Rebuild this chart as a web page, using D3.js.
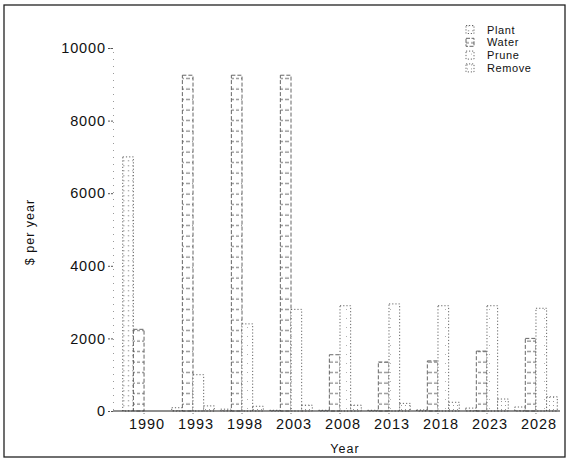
<!DOCTYPE html>
<html><head><meta charset="utf-8">
<script src="https://cdn.jsdelivr.net/npm/d3@7/dist/d3.min.js"></script>
<style>
html,body{margin:0;padding:0;background:#fff;}
svg{display:block;}
text{font-family:"Liberation Sans",Arial,Helvetica,sans-serif;fill:#111;}
</style></head>
<body>
<script>
// ---- data ----
const years  = ["1990","1993","1998","2003","2008","2013","2018","2023","2028"];
const series = ["Plant","Water","Prune","Remove"];
const plant  = [7000,   90,   50,   20,   20,   20,   30,   80,  110];
const water  = [2250, 9250, 9250, 9250, 1550, 1350, 1380, 1650, 2000];
const prune  = [   0, 1000, 2400, 2800, 2900, 2950, 2900, 2900, 2830];
const remove = [   0,  140,  130,  160,  160,  210,  240,  330,  390];
const yTicks = [0, 2000, 4000, 6000, 8000, 10000];

const values = {Plant: plant, Water: water, Prune: prune, Remove: remove};
const rows = [];
years.forEach((yr, i) => series.forEach(s => rows.push({year: yr, series: s, value: values[s][i]})));

const W = 568, H = 460;
const svg = d3.select("body").append("svg").attr("width", W).attr("height", H);

// patterns
const defs = svg.append("defs");
const pPlant = defs.append("pattern").attr("id","pat-Plant").attr("patternUnits","userSpaceOnUse").attr("width",4.5).attr("height",5);
pPlant.append("rect").attr("width",4.5).attr("height",5).attr("fill","#fff");
pPlant.append("rect").attr("x",2).attr("y",0).attr("width",0.9).attr("height",1.4).attr("fill","#888");
const pWater = defs.append("pattern").attr("id","pat-Water").attr("patternUnits","userSpaceOnUse").attr("width",11).attr("height",10.5);
pWater.append("rect").attr("width",11).attr("height",10.5).attr("fill","#fff");
pWater.append("line").attr("x1",0).attr("x2",11).attr("y1",5).attr("y2",5).attr("stroke","#666").attr("stroke-width",1).attr("stroke-dasharray","3,2");
const pPrune = defs.append("pattern").attr("id","pat-Prune").attr("patternUnits","userSpaceOnUse").attr("width",11).attr("height",9);
pPrune.append("rect").attr("width",11).attr("height",9).attr("fill","#fff");
pPrune.append("rect").attr("x",5).attr("y",3).attr("width",0.9).attr("height",1).attr("fill","#aaa");
const pRemove = defs.append("pattern").attr("id","pat-Remove").attr("patternUnits","userSpaceOnUse").attr("width",4).attr("height",4);
pRemove.append("rect").attr("width",4).attr("height",4).attr("fill","#fff");
pRemove.append("rect").attr("x",1).attr("y",1).attr("width",1).attr("height",1).attr("fill","#999");

// frame
svg.append("rect").attr("x",4).attr("y",5).attr("width",561).attr("height",452)
  .attr("fill","none").attr("stroke","#222").attr("stroke-width",1.3);

// scales
const x0 = d3.scaleBand().domain(years).range([114, 566]).paddingInner(0.13).paddingOuter(0.178);
const x1 = d3.scaleBand().domain(series).range([0, x0.bandwidth()]).padding(0);
const y  = d3.scaleLinear().domain([0, 10000]).range([411, 48]);

// bars
svg.append("g").selectAll("rect").data(rows).join("rect")
  .attr("x", d => x0(d.year) + x1(d.series))
  .attr("y", d => y(d.value))
  .attr("width", x1.bandwidth())
  .attr("height", d => y(0) - y(d.value))
  .attr("fill", d => `url(#pat-${d.series})`)
  .attr("stroke", "#555")
  .attr("stroke-width", 0.9)
  .attr("stroke-dasharray", d => d.series === "Water" ? "4,2" : "1.2,2");

// y axis
const yAxis = svg.append("g").attr("transform","translate(113,0)")
  .call(d3.axisLeft(y).tickValues(yTicks).tickSize(5).tickPadding(2).tickFormat(d3.format("d")));
yAxis.select(".domain").attr("stroke","#999").attr("stroke-dasharray","1,6");
yAxis.selectAll(".tick line").attr("stroke","#555").attr("stroke-dasharray","2,1");
yAxis.selectAll(".tick text").style("font-size","14.5px").style("letter-spacing","0.9px").attr("fill","#111");

// x axis
const xAxis = svg.append("g").attr("transform",`translate(0,${y(0)})`)
  .call(d3.axisBottom(x0).tickSize(3).tickSizeOuter(0).tickPadding(5));
xAxis.select(".domain").attr("d", `M113,0H560`).attr("stroke","#222").attr("stroke-width",1.1);
xAxis.selectAll(".tick line").attr("stroke","#777").attr("stroke-dasharray","1,1");
xAxis.selectAll(".tick text").attr("dx", 3).style("font-size","14.5px").style("letter-spacing","0.9px").attr("fill","#111");

// axis titles
svg.append("text").attr("x", 345).attr("y", 453).attr("text-anchor","middle")
  .style("font-size","12.5px").style("letter-spacing","1px").text("Year");
svg.append("text").attr("transform","translate(34,232) rotate(-90)").attr("text-anchor","middle")
  .style("font-size","12.5px").style("letter-spacing","1px").text("$ per year");

// legend
const lg = svg.append("g").attr("transform","translate(466,25)");
series.forEach((s, i) => {
  const g = lg.append("g").attr("transform", `translate(0,${i*12.8})`);
  g.append("rect").attr("x",0).attr("y",0.5).attr("width",8).attr("height",8)
    .attr("fill", `url(#pat-${s})`).attr("stroke","#555").attr("stroke-width",0.9)
    .attr("stroke-dasharray", s === "Water" ? "4,1.5" : "1.2,1.8");
  g.append("text").attr("x",21).attr("y",8.5).style("font-size","11px").style("letter-spacing","0.6px").text(s);
});
</script>
</body></html>
